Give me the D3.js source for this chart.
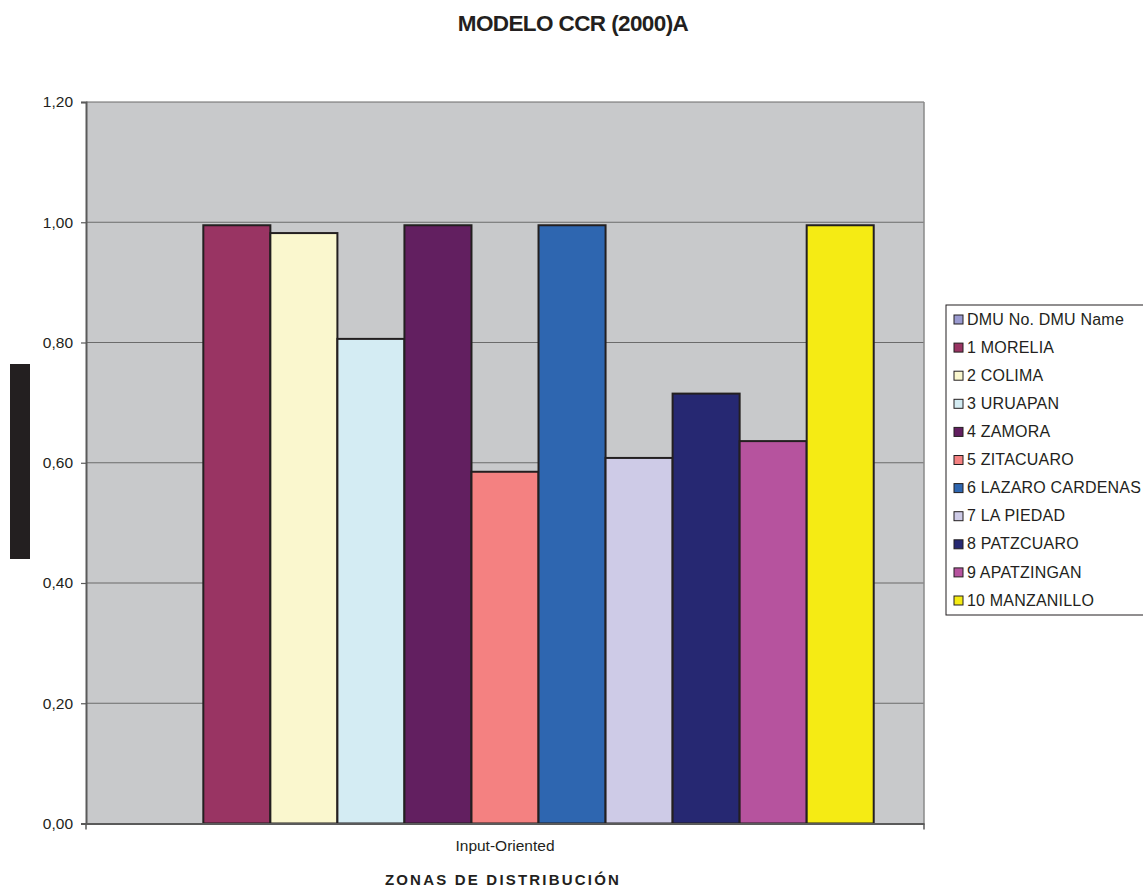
<!DOCTYPE html>
<html>
<head>
<meta charset="utf-8">
<script src="https://cdn.jsdelivr.net/npm/d3@7"></script>
<style>
  html, body { margin: 0; padding: 0; background: #ffffff; }
  svg { display: block; font-family: "Liberation Sans", Arial, sans-serif; }
</style>
</head>
<body>
<svg id="chart" width="1143" height="888"></svg>
<script>
// Efficiency scores per distribution zone (CCR model, input oriented)
const categories = ["Input-Oriented"];
const seriesNames = [
  "DMU No. DMU Name", "1 MORELIA", "2 COLIMA", "3 URUAPAN", "4 ZAMORA",
  "5 ZITACUARO", "6 LAZARO CARDENAS", "7 LA PIEDAD", "8 PATZCUARO",
  "9 APATZINGAN", "10 MANZANILLO"
];
const seriesValues = [0, 0.995, 0.982, 0.806, 0.995, 0.585, 0.995, 0.608, 0.715, 0.636, 0.995];
const seriesColors = [
  "#9a9ad0", "#993463", "#faf7ce", "#d4ecf3", "#621f60", "#f48181",
  "#2e66b0", "#cecbe7", "#262872", "#b6539e", "#f5eb14"
];
const yTicks = [0, 0.2, 0.4, 0.6, 0.8, 1.0, 1.2];

const svg = d3.select("#chart");
const plot = { left: 86, right: 924, top: 102, bottom: 823.5 };

const y = d3.scaleLinear().domain([0, 1.2]).range([plot.bottom, plot.top]);
const x0 = d3.scaleBand().domain(categories).range([plot.left, plot.right]).padding(0);
const x1 = d3.scaleBand().domain(seriesNames).range([0, x0.bandwidth()])
  .paddingInner(0).paddingOuter(0.75);
const fmt = v => d3.format(".2f")(v).replace(".", ",");

// Plot background
svg.append("rect")
  .attr("x", plot.left).attr("y", plot.top)
  .attr("width", plot.right - plot.left).attr("height", plot.bottom - plot.top)
  .attr("fill", "#c8c9cb");

// Gridlines
svg.append("g")
  .selectAll("line")
  .data(yTicks.filter(t => t > 0))
  .join("line")
  .attr("x1", plot.left).attr("x2", plot.right)
  .attr("y1", d => y(d)).attr("y2", d => y(d))
  .attr("stroke", "#6b6b6b").attr("stroke-width", 1.2);

// Right border of the plot area
svg.append("line")
  .attr("x1", plot.right).attr("x2", plot.right)
  .attr("y1", plot.top).attr("y2", plot.bottom)
  .attr("stroke", "#8a8a8a").attr("stroke-width", 1.5);

// Bars
const groups = svg.append("g").selectAll("g")
  .data(categories)
  .join("g")
  .attr("transform", d => `translate(${x0(d)},0)`);

groups.selectAll("rect")
  .data(seriesNames.map((name, i) => ({ name, value: seriesValues[i], color: seriesColors[i] }))
    .filter(d => d.value > 0))
  .join("rect")
  .attr("x", d => x1(d.name))
  .attr("y", d => y(d.value))
  .attr("width", x1.bandwidth())
  .attr("height", d => y(0) - y(d.value))
  .attr("fill", d => d.color)
  .attr("stroke", "#231f20")
  .attr("stroke-width", 2);

// Y axis
const yAxis = d3.axisLeft(y).tickValues(yTicks).tickFormat(fmt).tickSize(5).tickPadding(8);
const gy = svg.append("g").attr("transform", `translate(${plot.left},0)`).call(yAxis);
gy.select(".domain").attr("stroke", "#5a5a5a").attr("stroke-width", 2);
gy.selectAll(".tick line").attr("stroke", "#5a5a5a").attr("stroke-width", 1.2);
gy.selectAll(".tick text").attr("font-size", 15.5).attr("fill", "#231f20")
  .attr("font-family", "Liberation Sans, Arial, sans-serif").attr("dy", "0.32em");

// X axis
const xAxis = d3.axisBottom(x0).tickSize(0).tickPadding(16);
const gx = svg.append("g").attr("transform", `translate(0,${plot.bottom})`).call(xAxis);
gx.select(".domain").attr("stroke", "#5a5a5a").attr("stroke-width", 2);
gx.selectAll(".tick text").attr("font-size", 15.5).attr("fill", "#231f20")
  .attr("font-family", "Liberation Sans, Arial, sans-serif").attr("letter-spacing", "0px");
// Category boundary ticks
svg.append("g").selectAll("line")
  .data([plot.left, plot.right])
  .join("line")
  .attr("x1", d => d).attr("x2", d => d)
  .attr("y1", plot.bottom).attr("y2", plot.bottom + 6)
  .attr("stroke", "#5a5a5a").attr("stroke-width", 1.5);

// Title
svg.append("text")
  .attr("x", 573).attr("y", 31)
  .attr("text-anchor", "middle")
  .attr("font-size", 22.5).attr("font-weight", "bold")
  .attr("letter-spacing", "-0.6px")
  .attr("fill", "#231f20")
  .text("MODELO CCR (2000)A");

// X axis title
svg.append("text")
  .attr("x", 503).attr("y", 885)
  .attr("text-anchor", "middle")
  .attr("font-size", 15).attr("font-weight", "bold")
  .attr("letter-spacing", "2.2px")
  .attr("fill", "#231f20")
  .text("ZONAS DE DISTRIBUCIÓN");

// Y axis title block
svg.append("rect")
  .attr("x", 10).attr("y", 364).attr("width", 20).attr("height", 195)
  .attr("fill", "#231f20");

// Legend
const legend = svg.append("g").attr("transform", "translate(946,305)");
legend.append("rect")
  .attr("x", 0).attr("y", 0).attr("width", 210).attr("height", 310)
  .attr("fill", "#ffffff").attr("stroke", "#231f20").attr("stroke-width", 1);
const item = legend.selectAll("g.item")
  .data(seriesNames.map((name, i) => ({ name, color: seriesColors[i] })))
  .join("g").attr("class", "item")
  .attr("transform", (d, i) => `translate(8,${14 + i * 28.1})`);
item.append("rect")
  .attr("x", 0).attr("y", -4).attr("width", 9).attr("height", 9)
  .attr("fill", d => d.color).attr("stroke", "#231f20").attr("stroke-width", 1);
item.append("text")
  .attr("x", 13).attr("y", 0).attr("dy", "0.35em")
  .attr("font-size", 16).attr("fill", "#231f20")
  .attr("letter-spacing", "0.2px")
  .text(d => d.name);
</script>
</body>
</html>
